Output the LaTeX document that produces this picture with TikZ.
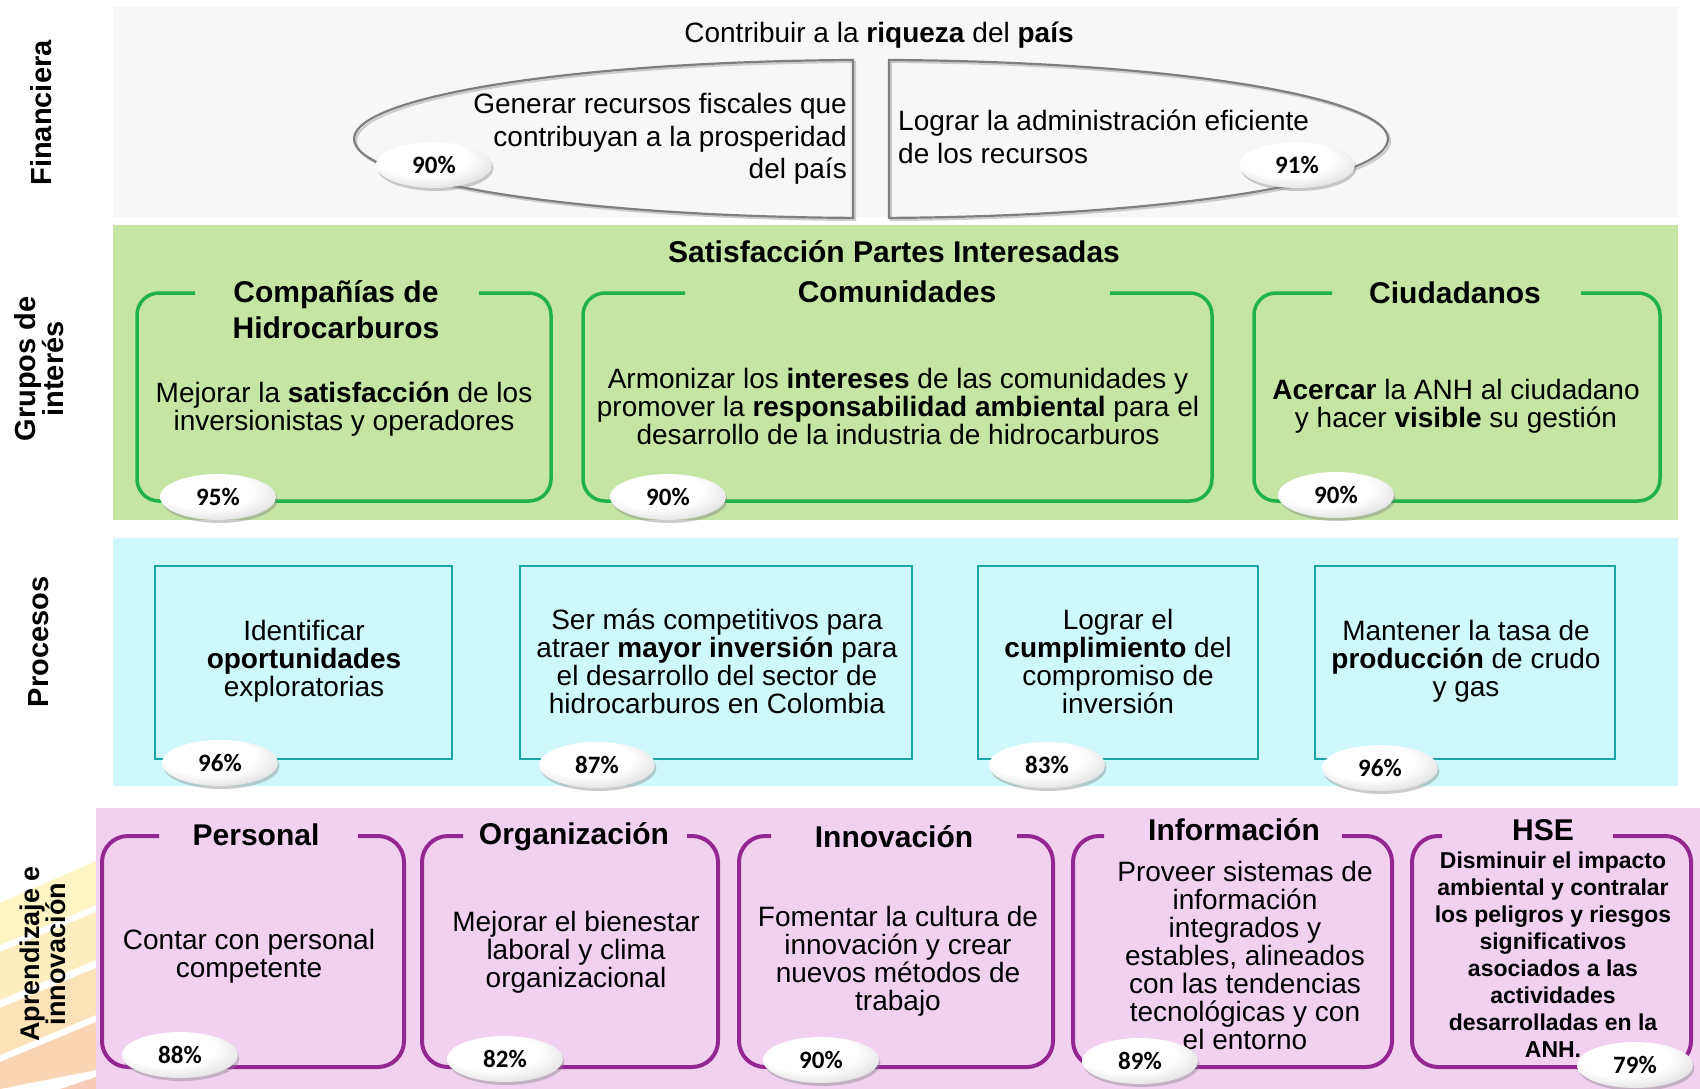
\documentclass[tikz,border=0pt]{standalone}
\usepackage{fontspec}
\setmainfont{Liberation Sans}
\newfontfamily\pctfamily{Carlito}
\usetikzlibrary{shapes.geometric,shadows}
\definecolor{finbg}{HTML}{F7F7F7}
\definecolor{grnbg}{HTML}{C5E5A4}
\definecolor{grnline}{HTML}{1FB24A}
\definecolor{cyanbg}{HTML}{CFF8FC}
\definecolor{tealline}{HTML}{1AA5A8}
\definecolor{pinkbg}{HTML}{F2D0F0}
\definecolor{purline}{HTML}{93278F}
\definecolor{ellline}{HTML}{7F7F7F}
\definecolor{stA}{HTML}{FFF5C4}
\definecolor{stB}{HTML}{FEEDBF}
\definecolor{stC}{HTML}{FCE2B8}
\definecolor{stD}{HTML}{F9D5B4}
\definecolor{stE}{HTML}{F8CCB8}
\pgfdeclareradialshading{pillshade}{\pgfpoint{-8bp}{12bp}}{color(0bp)=(white); color(20bp)=(white); color(30bp)=(black!10); color(40bp)=(black!32); color(50bp)=(black!52)}
\newcommand\fs[2]{\fontsize{#1}{#2}\selectfont}
\newcommand\gapframe[7]{\draw[#1] (#4,#3) -- (#2,#3) -- (#2,#7) -- (#6,#7) -- (#6,#3) -- (#5,#3);}
\begin{document}
\begin{tikzpicture}[x=1pt,y=-1pt,
  lab/.style={rotate=90, font=\bfseries\fs{29}{26}, align=center, inner sep=0pt},
  body/.style={align=center, font=\fs{28}{28}, inner sep=0pt},
  ttl/.style={align=center, font=\bfseries\fs{30}{36}, inner sep=0pt},
  pill/.style={ellipse, minimum width=116pt, minimum height=46pt, inner sep=0pt, shade, shading=pillshade,
     drop shadow={shadow xshift=1.5pt, shadow yshift=-3pt, opacity=0.4}, font=\pctfamily\bfseries\fs{25}{25}},
  gbox/.style={draw=grnline, line width=3.5pt, rounded corners=22pt},
  tbox/.style={draw=tealline, line width=2.5pt},
  pbox/.style={draw=purline, line width=4pt, rounded corners=26pt},
  ell/.style={draw=ellline, line width=2.2pt}]
\useasboundingbox (0,0) rectangle (1700,1089);
\fill[white] (0,0) rectangle (1700,1089);
% panels
\fill[finbg] (113,7) rectangle (1678,217);
\fill[grnbg] (113,225) rectangle (1678,520);
\fill[cyanbg] (113,538) rectangle (1678,786);
\fill[pinkbg] (96,808) rectangle (1700,1089);
% decorative stripes
\fill[stA] (0,903) -- (96,861) -- (96,905) -- (0,945) -- cycle;
\fill[stB] (0,952) -- (96,912) -- (96,960) -- (0,1000) -- cycle;
\fill[stC] (0,1008) -- (96,968) -- (96,1015) -- (0,1055) -- cycle;
\fill[stD] (0,1062) -- (96,1022) -- (96,1070) -- (0,1089) -- cycle;
\fill[stE] (60,1089) -- (96,1077) -- (96,1089) -- cycle;
% labels
\node[lab] (lfin) at (41,113) {Financiera};
\node[lab] (lgru) at (39,369) {Grupos de\\interés};
\node[lab] (lpro) at (39,642) {Procesos};
\node[lab, font=\bfseries\fs{27}{26}] (lapr) at (43,954) {Aprendizaje e\\innovación};
% financiera
\node[body] (fint) at (879,35) {Contribuir a la \textbf{riqueza} del \textbf{país}};
\draw[ellline!40, line width=2.2pt, shift={(2,2)}] (853,60) arc[start angle=-92, end angle=-268, x radius=517, y radius=79] -- cycle;
\draw[ellline!40, line width=2.2pt, shift={(2,2)}] (889,60) arc[start angle=-88, end angle=88, x radius=517, y radius=79] -- cycle;
\draw[ell] (853,60) arc[start angle=-92, end angle=-268, x radius=517, y radius=79] -- cycle;
\draw[ell] (889,60) arc[start angle=-88, end angle=88, x radius=517, y radius=79] -- cycle;
\node[body, align=right, anchor=east, font=\fs{28}{32.5}] (fin1) at (847,139) {Generar recursos fiscales que\\contribuyan a la prosperidad\\del país};
\node[body, align=left, anchor=west, font=\fs{28}{33}] (fin2) at (898,137) {Lograr la administración eficiente\\de los recursos};
\node[pill] (pf1) at (434,165) {90\%};
\node[pill] (pf2) at (1297,165) {91\%};
% grupos
\node[ttl] (gtit) at (894,252) {Satisfacción Partes Interesadas};
\gapframe{gbox}{137}{293}{195}{479}{551}{501}
\gapframe{gbox}{583}{293}{685}{1110}{1212}{501}
\gapframe{gbox}{1254}{293}{1332}{1581}{1660}{501}
\node[ttl] (g1t) at (336,310) {Compañías de\\Hidrocarburos};
\node[ttl] (g2t) at (897,292) {Comunidades};
\node[ttl] (g3t) at (1455,293) {Ciudadanos};
\node[body] (g1b) at (344,409) {Mejorar la \textbf{satisfacción} de los\\inversionistas y operadores};
\node[body] (g2b) at (898,406) {Armonizar los \textbf{intereses} de las comunidades y\\promover la \textbf{responsabilidad ambiental} para el\\desarrollo de la industria de hidrocarburos};
\node[body] (g3b) at (1456,406) {\textbf{Acercar} la ANH al ciudadano\\y hacer \textbf{visible} su gestión};
\node[pill] (pg1) at (218,497) {95\%};
\node[pill] (pg2) at (668,497) {90\%};
\node[pill] (pg3) at (1336,495) {90\%};
% procesos
\draw[tbox] (155,566) rectangle (452,759);
\draw[tbox] (520,566) rectangle (912,759);
\draw[tbox] (978,566) rectangle (1258,759);
\draw[tbox] (1315,566) rectangle (1615,759);
\node[body] (p1b) at (304,661) {Identificar\\\textbf{oportunidades}\\exploratorias};
\node[body] (p2b) at (717,661) {Ser más competitivos para\\atraer \textbf{mayor inversión} para\\el desarrollo del sector de\\hidrocarburos en Colombia};
\node[body] (p3b) at (1118,661) {Lograr el\\\textbf{cumplimiento} del\\compromiso de\\inversión};
\node[body] (p4b) at (1466,661) {Mantener la tasa de\\\textbf{producción} de crudo\\y gas};
\node[pill] (pp1) at (220,763) {96\%};
\node[pill] (pp2) at (597,765) {87\%};
\node[pill] (pp3) at (1047,765) {83\%};
\node[pill] (pp4) at (1380,768) {96\%};
% aprendizaje
\gapframe{pbox}{102}{836}{159}{358}{404}{1067}
\gapframe{pbox}{422}{836}{463}{687}{718}{1067}
\gapframe{pbox}{739}{836}{771}{1017}{1053}{1067}
\gapframe{pbox}{1073}{836}{1104}{1342}{1392}{1067}
\gapframe{pbox}{1412}{836}{1442}{1613}{1691}{1067}
\node[ttl] (a1t) at (256,835) {Personal};
\node[ttl] (a2t) at (574,837) {Organización};
\node[ttl] (a3t) at (894,837) {Innovación};
\node[ttl] (a4t) at (1234,830) {Información};
\node[ttl] (a5t) at (1543,830) {HSE};
\node[body] (a1b) at (249,956) {Contar con personal\\competente};
\node[body] (a2b) at (576,952) {Mejorar el bienestar\\laboral y clima\\organizacional};
\node[body] (a3b) at (898,961) {Fomentar la cultura de\\innovación y crear\\nuevos métodos de\\trabajo};
\node[body] (a4b) at (1245,955) {Proveer sistemas de\\información\\integrados y\\estables, alineados\\con las tendencias\\tecnológicas y con\\el entorno};
\node[body, font=\bfseries\fs{23}{27}] (a5b) at (1553,955) {Disminuir el impacto\\ambiental y contralar\\los peligros y riesgos\\significativos\\asociados a las\\actividades\\desarrolladas en la\\ANH.};
\node[pill] (pa1) at (180,1055) {88\%};
\node[pill] (pa2) at (505,1059) {82\%};
\node[pill] (pa3) at (821,1060) {90\%};
\node[pill] (pa4) at (1140,1061) {89\%};
\node[pill] (pa5) at (1635,1065) {79\%};
\end{tikzpicture}
\end{document}
